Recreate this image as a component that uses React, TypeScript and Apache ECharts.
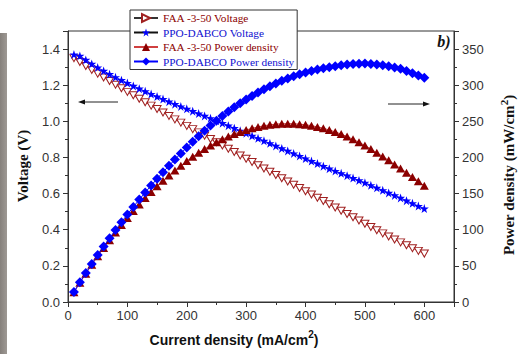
import { useEffect, useRef } from "react";
import * as echarts from "echarts";

const currentDensity = [
  10, 20, 30, 40, 50, 60, 70, 80, 90, 100,
  110, 120, 130, 140, 150, 160, 170, 180, 190, 200,
  210, 220, 230, 240, 250, 260, 270, 280, 290, 300,
  310, 320, 330, 340, 350, 360, 370, 380, 390, 400,
  410, 420, 430, 440, 450, 460, 470, 480, 490, 500,
  510, 520, 530, 540, 550, 560, 570, 580, 590, 600,
];

const faaVoltage = [
  1.350, 1.328, 1.306, 1.285, 1.264, 1.243, 1.223, 1.203, 1.183, 1.163,
  1.144, 1.125, 1.106, 1.087, 1.068, 1.049, 1.030, 1.011, 0.993, 0.975,
  0.957, 0.939, 0.921, 0.902, 0.884, 0.866, 0.848, 0.830, 0.811, 0.793,
  0.775, 0.757, 0.739, 0.721, 0.703, 0.685, 0.667, 0.649, 0.631, 0.613,
  0.595, 0.577, 0.559, 0.541, 0.523, 0.505, 0.487, 0.469, 0.451, 0.433,
  0.415, 0.397, 0.380, 0.363, 0.346, 0.330, 0.314, 0.298, 0.283, 0.268,
];

const ppoVoltage = [
  1.370, 1.362, 1.340, 1.318, 1.298, 1.279, 1.261, 1.244, 1.228, 1.212,
  1.196, 1.181, 1.166, 1.151, 1.137, 1.123, 1.109, 1.095, 1.082, 1.069,
  1.056, 1.043, 1.030, 1.017, 1.003, 0.990, 0.976, 0.962, 0.948, 0.934,
  0.920, 0.906, 0.892, 0.878, 0.864, 0.850, 0.836, 0.822, 0.808, 0.794,
  0.780, 0.766, 0.752, 0.738, 0.725, 0.712, 0.699, 0.686, 0.673, 0.660,
  0.646, 0.632, 0.618, 0.604, 0.590, 0.576, 0.561, 0.546, 0.531, 0.517,
];

const faaPower = [
  13.5, 26.6, 39.2, 51.4, 63.2, 74.6, 85.6, 96.2, 106.5, 116.3,
  125.8, 135.0, 143.8, 152.2, 160.2, 167.8, 175.1, 182.0, 188.7, 195.0,
  201.0, 206.6, 211.8, 216.5, 221.0, 225.2, 229.0, 232.4, 235.2, 237.9,
  240.3, 242.2, 243.9, 245.1, 246.1, 246.6, 246.8, 246.6, 246.1, 245.2,
  244.0, 242.3, 240.4, 238.0, 235.4, 232.3, 228.9, 225.1, 221.0, 216.5,
  211.7, 206.4, 201.4, 196.0, 190.3, 184.8, 179.0, 172.8, 167.0, 160.8,
];

const ppoPower = [
  13.7, 27.2, 40.2, 52.7, 64.9, 76.7, 88.3, 99.5, 110.5, 121.2,
  131.6, 141.7, 151.6, 161.1, 170.6, 179.7, 188.5, 197.1, 205.6, 213.8,
  221.8, 229.5, 236.9, 244.1, 250.8, 257.4, 263.5, 269.4, 274.9, 280.2,
  285.2, 289.9, 294.4, 298.5, 302.4, 306.0, 309.3, 312.4, 315.1, 317.6,
  319.8, 321.7, 323.4, 324.7, 326.3, 327.5, 328.5, 329.3, 329.8, 330.0,
  329.5, 328.6, 327.5, 326.2, 324.5, 322.6, 319.8, 316.7, 313.3, 310.2,
];

const seriesNames = [
  "FAA -3-50 Voltage",
  "PPO-DABCO Voltage",
  "FAA -3-50 Power density",
  "PPO-DABCO Power density",
];

const STAR =
  "path://M50,0 L61.8,35.1 L98.9,35.1 L68.9,57.3 L80.3,92.7 L50,70.5 L19.7,92.7 L31.1,57.3 L1.1,35.1 L38.2,35.1 Z";

const RED = "#8b0000";
const BLUE = "#0000ff";
const AXIS = "#333";

function pairs(xs: number[], ys: number[]) {
  return xs.map((x, i) => [x, ys[i]]);
}

export default function App() {
  const ref = useRef<HTMLDivElement>(null);

  useEffect(() => {
    if (!ref.current) return;
    const chart = echarts.init(ref.current, undefined, { renderer: "svg" });

    const tickCommon = {
      axisLine: { show: true, lineStyle: { color: AXIS, width: 1 } },
      axisTick: { show: true, inside: false, length: 5, lineStyle: { color: AXIS } },
      minorTick: { show: true, splitNumber: 2, length: 3, lineStyle: { color: AXIS } },
      splitLine: { show: false },
      minorSplitLine: { show: false },
    };

    const option: any = {
      animation: false,
      backgroundColor: "#fff",
      grid: {
        left: 68,
        right: 65,
        top: 31,
        bottom: 52,
        show: true,
        borderColor: AXIS,
        borderWidth: 1,
        backgroundColor: "transparent",
      },
      legend: {
        left: 130,
        top: 10,
        orient: "vertical",
        backgroundColor: "#fff",
        borderColor: AXIS,
        borderWidth: 1,
        borderRadius: 0,
        padding: [2, 3, 2, 3],
        itemGap: 2.5,
        itemWidth: 24,
        itemHeight: 10,
        textStyle: { fontFamily: "Liberation Serif", fontSize: 11.3, lineHeight: 12 },
        data: [
          { name: seriesNames[0], textStyle: { color: RED }, symbolRotate: -90, lineStyle: { color: "#333" } },
          { name: seriesNames[1], textStyle: { color: "#1010d0" }, lineStyle: { color: "#111" } },
          { name: seriesNames[2], textStyle: { color: RED }, lineStyle: { color: "#d04040" } },
          { name: seriesNames[3], textStyle: { color: "#1010d0" } },
        ],
      },
      xAxis: {
        type: "value",
        min: 0,
        max: 650,
        interval: 100,
        ...tickCommon,
        axisLabel: {
          fontFamily: "Liberation Sans",
          fontSize: 13,
          color: "#333",
          margin: 7,
          showMaxLabel: false,
        },
      },
      yAxis: [
        {
          type: "value",
          min: 0,
          max: 1.5,
          interval: 0.2,
          position: "left",
          ...tickCommon,
          axisLabel: {
            fontFamily: "Liberation Sans",
            fontSize: 13,
            color: "#333",
            margin: 8,
            showMaxLabel: false,
            formatter: (v: number) => v.toFixed(1),
          },
        },
        {
          type: "value",
          min: 0,
          max: 375,
          interval: 50,
          position: "right",
          ...tickCommon,
          axisLabel: {
            fontFamily: "Liberation Sans",
            fontSize: 13,
            color: "#333",
            margin: 8,
            showMaxLabel: false,
          },
        },
      ],
      series: [
        {
          name: seriesNames[0],
          type: "line",
          yAxisIndex: 0,
          data: pairs(currentDensity, faaVoltage),
          symbol: "triangle",
          symbolRotate: 180,
          symbolSize: [8, 7],
          itemStyle: { color: "#fff", borderColor: "#a02020", borderWidth: 1 },
          lineStyle: { color: "#c05050", width: 1 },
          z: 2,
        },
        {
          name: seriesNames[1],
          type: "line",
          yAxisIndex: 0,
          data: pairs(currentDensity, ppoVoltage),
          symbol: STAR,
          symbolSize: 9,
          itemStyle: { color: BLUE },
          lineStyle: { color: BLUE, width: 1 },
          z: 3,
        },
        {
          name: seriesNames[2],
          type: "line",
          yAxisIndex: 1,
          data: pairs(currentDensity, faaPower),
          symbol: "triangle",
          symbolSize: [9, 8],
          itemStyle: { color: RED },
          lineStyle: { color: "#d04040", width: 1 },
          z: 4,
        },
        {
          name: seriesNames[3],
          type: "line",
          yAxisIndex: 1,
          data: pairs(currentDensity, ppoPower),
          symbol: "diamond",
          symbolSize: [10, 10],
          itemStyle: { color: BLUE },
          lineStyle: { color: BLUE, width: 1 },
          z: 5,
        },
      ],
      graphic: [
        {
          type: "rect",
          shape: { x: 0, y: 33, width: 7, height: 321 },
          style: {
            fill: new echarts.graphic.LinearGradient(0, 0, 1, 0, [
              { offset: 0, color: "#85807b" },
              { offset: 1, color: "#9e9994" },
            ]),
          },
          silent: true,
        },
        {
          type: "text",
          x: 23,
          y: 166,
          rotation: Math.PI / 2,
          style: {
            text: "Voltage (V)",
            font: 'bold 15px "Liberation Serif"',
            fill: "#111",
            align: "center",
            verticalAlign: "middle",
          },
        },
        {
          type: "text",
          x: 507,
          y: 175,
          rotation: Math.PI / 2,
          style: {
            text: "{a|Power density (mW/cm}{s|2}{a|)}",
            align: "center",
            verticalAlign: "middle",
            rich: {
              a: { font: 'bold 15px "Liberation Serif"', fill: "#111", lineHeight: 18, verticalAlign: "bottom" },
              s: { font: 'bold 11px "Liberation Serif"', fill: "#111", lineHeight: 18, verticalAlign: "top" },
            },
          },
        },
        {
          type: "text",
          x: 234,
          y: 338,
          style: {
            text: "{a|Current density (mA/cm}{s|2}{a|)}",
            align: "center",
            verticalAlign: "middle",
            rich: {
              a: { font: 'bold 14px "Liberation Sans"', fill: "#111", lineHeight: 18, verticalAlign: "bottom" },
              s: { font: 'bold 10px "Liberation Sans"', fill: "#111", lineHeight: 18, verticalAlign: "top" },
            },
          },
        },
        {
          type: "text",
          x: 444,
          y: 41,
          style: {
            text: "b)",
            font: 'italic bold 16px "Liberation Serif"',
            fill: "#111",
            align: "center",
            verticalAlign: "middle",
          },
        },
        {
          type: "line",
          shape: { x1: 82, y1: 102, x2: 118, y2: 102 },
          style: { stroke: "#222", lineWidth: 1 },
        },
        {
          type: "polygon",
          shape: { points: [[78, 102], [85, 99.5], [85, 104.5]] },
          style: { fill: "#111" },
        },
        {
          type: "line",
          shape: { x1: 388, y1: 104, x2: 426, y2: 104 },
          style: { stroke: "#222", lineWidth: 1 },
        },
        {
          type: "polygon",
          shape: { points: [[430, 104], [423, 101.5], [423, 106.5]] },
          style: { fill: "#111" },
        },
      ],
    };

    chart.setOption(option);
    return () => chart.dispose();
  }, []);

  return (
    <div
      ref={ref}
      style={{ position: "absolute", left: 0, top: 0, width: 519, height: 354 }}
    />
  );
}
